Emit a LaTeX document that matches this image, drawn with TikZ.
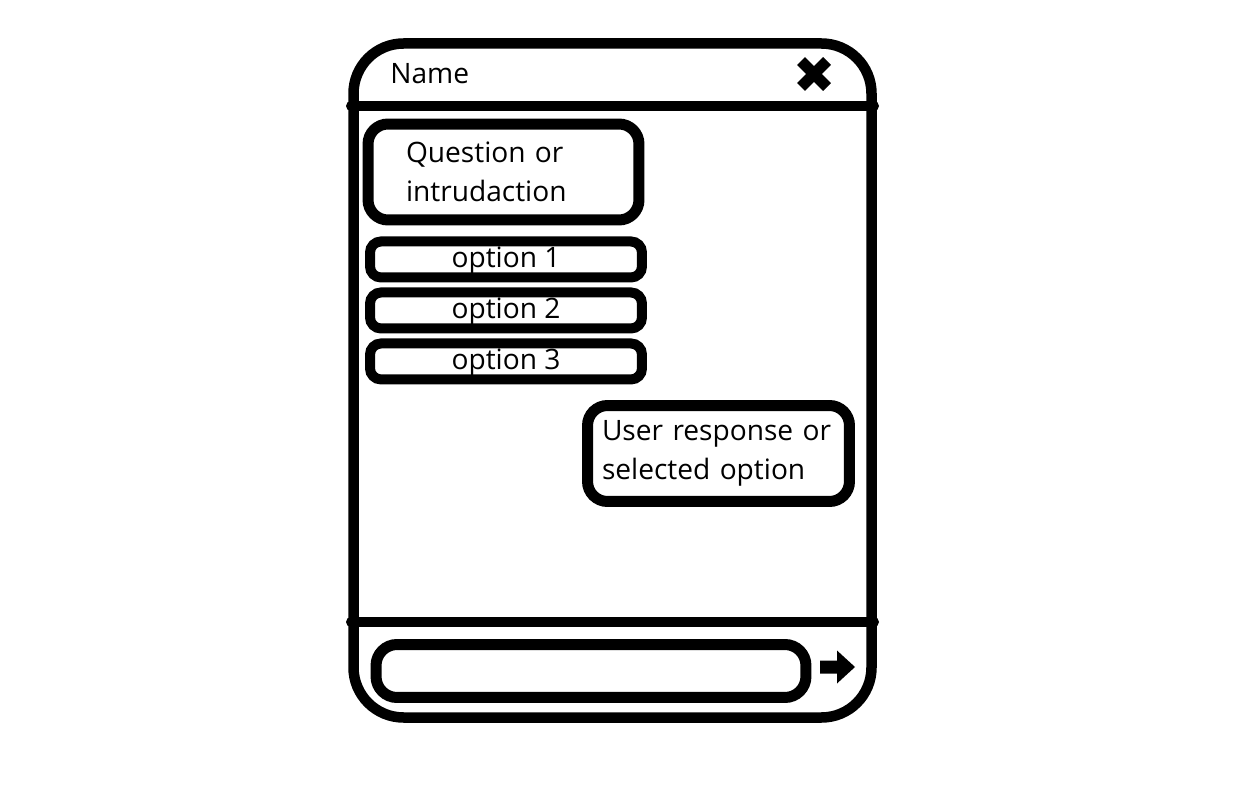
\documentclass[tikz,border=0pt]{standalone}
\usepackage{fontspec}
\setmainfont{Open Sans}
\usetikzlibrary{positioning}

\begin{document}
\begin{tikzpicture}[x=0.02cm, y=-0.02cm,
        frame/.style={draw, line width=0.21cm, rounded corners=1cm},
        bar/.style={draw, line width=0.2cm, line cap=round},
        bubble/.style={rectangle, draw, line width=0.22cm, rounded corners=0.4cm, inner sep=0pt, font=\fontsize{16}{22.5}\selectfont},
        optbox/.style={bubble, line width=0.2cm, minimum width=5.44cm, minimum height=0.72cm, rounded corners=0.22cm, text height=9.4pt, text depth=0pt}]

        \useasboundingbox (0,0) rectangle (1235,797);

        % Window frame and bars
        \draw [frame] (353.5,43.5) rectangle (871.5,717.5);
        \coordinate (hdl) at (351,106);
        \coordinate (hdr) at (874,106);
        \coordinate (ftl) at (351,622);
        \coordinate (ftr) at (874,622);
        \draw [bar] (hdl) -- (hdr);
        \draw [bar] (ftl) -- (ftr);

        % Title and close button
        \node [anchor=west, inner sep=0pt, font=\fontsize{16}{22.5}\selectfont] (title) at (390,74) {Name};
        \coordinate (close) at (814,74);
        \draw [line width=0.22cm] ([shift={(-13,-13)}]close) -- ([shift={(13,13)}]close);
        \draw [line width=0.22cm] ([shift={(-13,13)}]close) -- ([shift={(13,-13)}]close);

        % Messages
        \node [bubble, minimum width=5.42cm, minimum height=1.92cm, text width=3.9cm, align=left] (question) at (503.5,172) {Question or\\intrudaction};
        \node [optbox, below=0.22cm of question, xshift=0.05cm] (opt1) {option 1};
        \node [optbox, below=0.1cm of opt1] (opt2) {option 2};
        \node [optbox, below=0.1cm of opt2] (opt3) {option 3};
        \node [bubble, minimum width=5.24cm, minimum height=1.92cm, text width=4.66cm, align=left] (reply) at (718.5,453.5) {User response or\\selected option};

        % Input field and send arrow
        \node [bubble, minimum width=8.6cm, minimum height=1.06cm, rounded corners=0.42cm] (input) at (591,671) {};
        \coordinate (send) at (820,667);
        \fill ([shift={(0,-6.5)}]send) -- ++(17,0) -- ++(0,-10) -- ++(18,16.5) -- ++(-18,16.5) -- ++(0,-10) -- ++(-17,0) -- cycle;
    \end{tikzpicture}
\end{document}
